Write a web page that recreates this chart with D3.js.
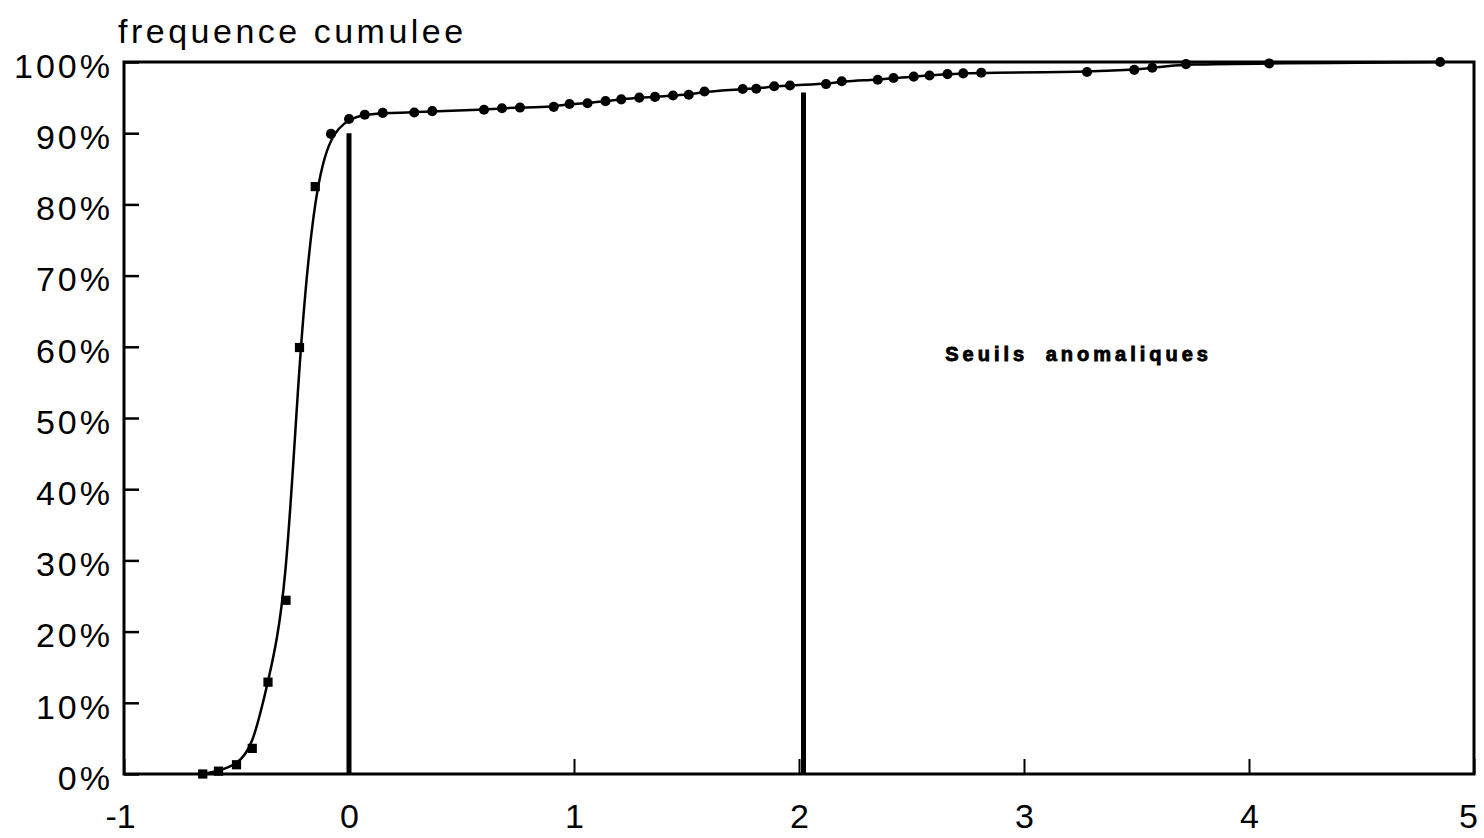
<!DOCTYPE html>
<html>
<head>
<meta charset="utf-8">
<script src="https://cdn.jsdelivr.net/npm/d3@7"></script>
<style>
  body { margin: 0; background: #fff; }
  text { font-family: "Liberation Sans", Arial, sans-serif; fill: #000; }
</style>
</head>
<body>
<script>
// cumulative frequency curve
var xValues = [-0.65, -0.58, -0.50, -0.43, -0.36, -0.28, -0.22, -0.15, -0.08, 0.00,
               0.07, 0.15, 0.29, 0.37, 0.60, 0.68, 0.76, 0.91, 0.98, 1.06,
               1.14, 1.21, 1.29, 1.36, 1.44, 1.51, 1.58, 1.75, 1.81, 1.89,
               1.96, 2.12, 2.19, 2.35, 2.42, 2.51, 2.58, 2.66, 2.73, 2.81,
               3.28, 3.49, 3.57, 3.72, 4.09, 4.85];
var yValues = [0, 0.4, 1.3, 3.6, 12.9, 24.4, 59.9, 82.5, 89.9, 92.0,
               92.6, 92.85, 92.9, 93.1, 93.3, 93.5, 93.6, 93.7, 94.1, 94.2,
               94.5, 94.75, 95.0, 95.1, 95.3, 95.4, 95.85, 96.2, 96.25, 96.6,
               96.7, 96.9, 97.3, 97.5, 97.75, 97.95, 98.1, 98.3, 98.4, 98.5,
               98.6, 98.9, 99.2, 99.7, 99.8, 100];

// threshold lines (x position, top in %)
var thresholdX = [0.0, 2.02];
var thresholdTop = [90, 95.7];

var xTicks = [-1, 0, 1, 2, 3, 4, 5];
var yTicks = [0, 10, 20, 30, 40, 50, 60, 70, 80, 90, 100];

var title = "frequence cumulee";
var note = "Seuils anomaliques";

var margin = {top: 62, right: 10, bottom: 64, left: 124},
    width = 1484 - margin.left - margin.right,
    height = 838 - margin.top - margin.bottom;

var xScale = d3.scaleLinear().domain([-1, 5]).range([0, width]);
var yScale = d3.scaleLinear().domain([0, 100]).range([height, 0]);

var data = xValues.map(function(x, i) { return {x: x, y: yValues[i]}; });

var root = d3.select("body").append("svg")
    .attr("width", 1484)
    .attr("height", 838);

var svg = root.append("g")
    .attr("transform", "translate(" + margin.left + "," + margin.top + ")");

// y axis
var yAxis = d3.axisLeft(yScale)
    .tickValues(yTicks)
    .tickFormat(function(d) { return d + "%"; })
    .tickSize(-15)
    .tickPadding(11);

var yg = svg.append("g").call(yAxis);
yg.select(".domain").remove();
yg.selectAll("line").attr("stroke", "#000").attr("stroke-width", 2.5);
yg.selectAll("text")
    .style("font-size", "34px")
    .style("letter-spacing", "3px")
    .attr("dy", "0.45em");

// x axis
var xAxis = d3.axisBottom(xScale)
    .tickValues(xTicks)
    .tickFormat(function(d) { return String(d); })
    .tickSize(-15)
    .tickPadding(30);

var xg = svg.append("g")
    .attr("transform", "translate(0," + height + ")")
    .call(xAxis);
xg.select(".domain").remove();
xg.selectAll("line").attr("stroke", "#000").attr("stroke-width", 2);
xg.selectAll("text")
    .style("font-size", "34px")
    .attr("dx", function(d) { return d === 5 ? "-6" : (d === -1 ? "-4" : "0"); });

// frame
svg.append("rect")
    .attr("x", 0)
    .attr("y", 0)
    .attr("width", width)
    .attr("height", height)
    .attr("fill", "none")
    .attr("stroke", "#000")
    .attr("stroke-width", 3);

// threshold lines
svg.selectAll(".threshold")
    .data(thresholdX)
    .enter().append("line")
    .attr("class", "threshold")
    .attr("x1", function(d) { return xScale(d); })
    .attr("x2", function(d) { return xScale(d); })
    .attr("y1", yScale(0))
    .attr("y2", function(d, i) { return yScale(thresholdTop[i]); })
    .attr("stroke", "#000")
    .attr("stroke-width", 5);

// curve (smoothed through the points)
var line = d3.line()
    .x(function(d) { return xScale(d.x); })
    .y(function(d) { return yScale(d.y); })
    .curve(d3.curveBasis);

svg.append("path")
    .datum(data)
    .attr("d", line)
    .attr("fill", "none")
    .attr("stroke", "#000")
    .attr("stroke-width", 2.5);

// markers: squares on the steep part, dots on the plateau
svg.selectAll(".pt")
    .data(data)
    .enter().append("path")
    .attr("class", "pt")
    .attr("d", function(d) {
        return d3.symbol().type(d.y < 85 ? d3.symbolSquare : d3.symbolCircle).size(d.y < 85 ? 85 : 80)();
    })
    .attr("transform", function(d) { return "translate(" + xScale(d.x) + "," + yScale(d.y) + ")"; })
    .attr("fill", "#000");

// title
root.append("text")
    .attr("x", 118)
    .attr("y", 43)
    .style("font-size", "34px")
    .style("letter-spacing", "3.5px")
    .text(title);

// annotation
svg.append("text")
    .attr("x", xScale(2.65))
    .attr("y", yScale(59) + 7)
    .style("font-size", "20px")
    .style("font-weight", "bold")
    .style("letter-spacing", "4px")
    .style("word-spacing", "8px")
    .attr("stroke", "#000")
    .attr("stroke-width", 0.9)
    .text(note);
</script>
</body>
</html>
